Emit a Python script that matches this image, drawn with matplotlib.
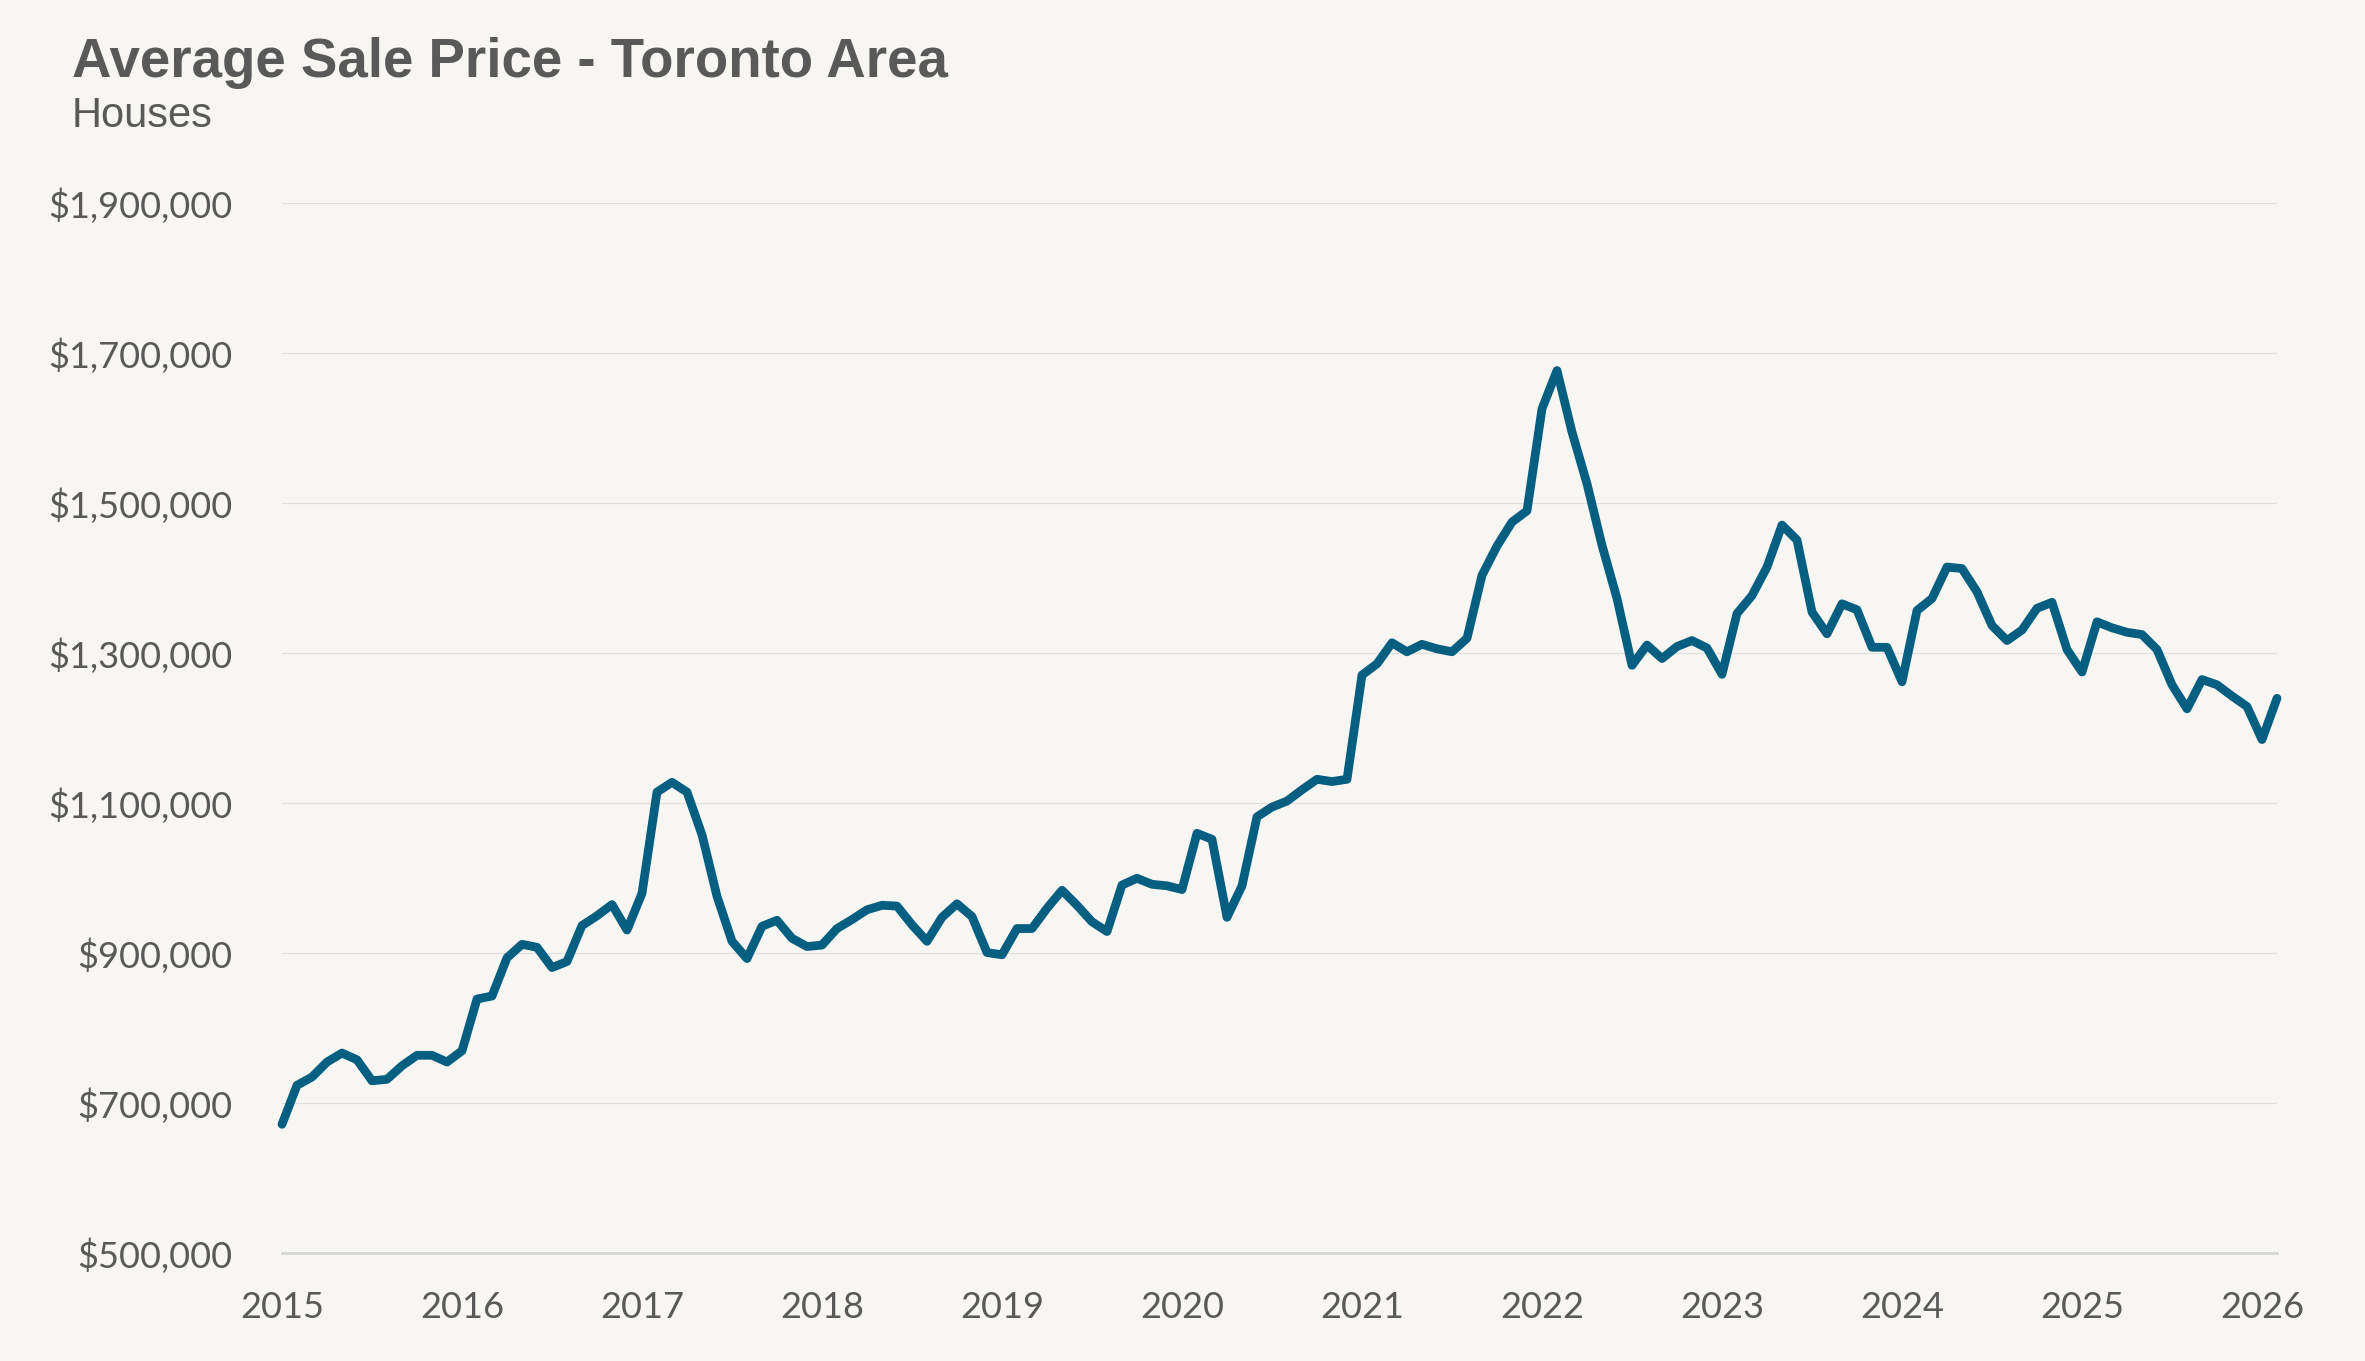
import matplotlib
matplotlib.use("Agg")
import matplotlib.pyplot as plt
from matplotlib.ticker import FuncFormatter

# Monthly average sale price, Jan 2015 .. Feb 2026 (in dollars)
prices_k = [
    672, 724, 735, 755, 767, 758, 730, 732, 750, 764, 764, 755,
    770, 839, 843, 894, 912, 908, 881, 889, 937, 950, 965, 931,
    980, 1115, 1128, 1115, 1058, 976, 916, 893, 936, 944, 920, 909,
    911, 933, 945, 958, 964, 963, 938, 916, 948, 966, 949, 901,
    898, 933, 933, 960, 984, 964, 942, 929, 991, 1000, 992, 990,
    985, 1060, 1052, 948, 990, 1082, 1095, 1103, 1118, 1132, 1129, 1132,
    1271, 1286, 1314, 1302, 1312, 1306, 1302, 1320, 1404, 1443, 1475, 1490,
    1626, 1677, 1595, 1526, 1444, 1373, 1284, 1311, 1293, 1309, 1317, 1307,
    1272, 1353, 1377, 1415, 1471, 1451, 1355, 1326, 1366, 1358, 1308, 1308,
    1262, 1357, 1373, 1415, 1413, 1382, 1337, 1317, 1331, 1360, 1368, 1305,
    1275, 1342, 1334, 1328, 1325, 1305, 1258, 1226, 1265, 1258, 1243, 1229,
    1185, 1240,
]
prices = [v * 1000 for v in prices_k]
year_labels = ["2015", "2016", "2017", "2018", "2019", "2020",
               "2021", "2022", "2023", "2024", "2025", "2026"]
y_ticks = [500000, 700000, 900000, 1100000, 1300000, 1500000, 1700000, 1900000]

title = "Average Sale Price - Toronto Area"
subtitle = "Houses"

BG = "#F7F6F3"
LINE = "#065E80"
TXT = "#595959"

W, H = 2365, 1361
fig = plt.figure(figsize=(W / 100, H / 100), dpi=100, facecolor=BG)
x0, x1 = 282, 2277
y_top, y_bot = 203.3, 1253.3
ax = fig.add_axes([x0 / W, 1 - y_bot / H, (x1 - x0) / W, (y_bot - y_top) / H])
ax.set_facecolor(BG)

months = list(range(len(prices)))
ax.plot(months, prices, color=LINE, lw=6.3, solid_joinstyle="round",
        solid_capstyle="round", clip_on=False, zorder=3)

ax.set_xlim(0, len(prices) - 1)
ax.set_ylim(500000, 1900000)
ax.set_yticks(y_ticks)
ax.yaxis.set_major_formatter(FuncFormatter(lambda v, p: "${:,.0f}".format(v)))
ax.set_xticks([12 * i for i in range(len(year_labels))])
ax.set_xticklabels(year_labels)

ax.grid(axis="y", color="#E0E0E0", lw=0.9, zorder=0)
ax.grid(axis="x", visible=False)
for s in ["top", "right", "left"]:
    ax.spines[s].set_visible(False)
ax.spines["bottom"].set_color("#D6D6D6")
ax.spines["bottom"].set_linewidth(2.0)
ax.spines["bottom"].set_zorder(1)

ax.tick_params(axis="both", length=0, labelcolor=TXT)
ax.tick_params(axis="y", pad=36)
ax.tick_params(axis="x", pad=27)
for lab in ax.get_xticklabels() + ax.get_yticklabels():
    lab.set_fontfamily("Lato")
    lab.set_fontsize(26)

fig.text(72 / W, 1 - 76.7 / H, title, fontsize=39.3, fontweight="bold",
         color=TXT, family="Liberation Sans", va="baseline", ha="left")
fig.text(72 / W, 1 - 126.7 / H, subtitle, fontsize=30, color=TXT,
         family="Liberation Sans", va="baseline", ha="left")

fig.savefig("out.png", dpi=100, facecolor=BG)
